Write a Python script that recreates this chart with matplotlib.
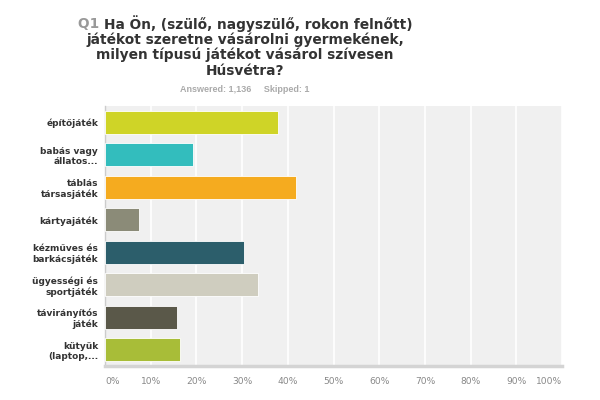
import matplotlib.pyplot as plt
import numpy as np

plt.rcParams['font.family'] = ['Liberation Sans', 'DejaVu Sans']

labels = ['építőjáték', 'babás vagy\nállatos...', 'táblás\ntársasjáték', 'kártyajáték',
          'kézműves és\nbarkácsjáték', 'ügyességi és\nsportjáték', 'távirányítós\njáték',
          'kütyük\n(laptop,...']
values = [37.9, 19.2, 41.8, 7.5, 30.3, 33.5, 15.8, 16.4]
colors = ['#cfd427', '#33bdbd', '#f5ab1f', '#8b8b78', '#2c5e6b', '#cfcdbf', '#5a5849', '#a8bd38']
ticks = [0, 10, 20, 30, 40, 50, 60, 70, 80, 90, 100]

fig = plt.figure(figsize=(6, 4), dpi=100)
ax = fig.add_axes([0.175, 0.085, 0.762, 0.65])
ax.set_facecolor('#f0f0f0')

y = np.arange(len(labels))
ax.barh(y, values, height=0.72, color=colors, zorder=3, edgecolor='white', linewidth=0.6)
ax.set_xlim(0, 100)
ax.set_ylim(len(labels) - 0.5, -0.5)
ax.set_yticks(y)
ax.set_yticklabels(labels, fontsize=6.5, fontweight='bold', family='DejaVu Sans',
                   color='#333333', linespacing=1.2)
ax.set_xticks(ticks)
ax.set_xticklabels([f'{t}%' for t in ticks], fontsize=6.6, family='DejaVu Sans',
                   color='#888888')
for i, lab in enumerate(ax.get_xticklabels()):
    if i == 0:
        lab.set_ha('left')
    elif i == len(ticks) - 1:
        lab.set_ha('right')
ax.tick_params(axis='x', length=0, pad=8)
ax.tick_params(axis='y', length=0, pad=5)
ax.grid(axis='x', color='white', linewidth=1.2, zorder=1)
for s in ['top', 'right']:
    ax.spines[s].set_visible(False)
ax.spines['left'].set_color('#cccccc')
ax.spines['left'].set_linewidth(1)
ax.spines['bottom'].set_color('#d4d4d4')
ax.spines['bottom'].set_linewidth(2.5)

# title, first line has a gray "Q1"
cx = 245 / 600
tfont = dict(fontsize=9.9, fontweight='bold', family='DejaVu Sans')
title_lines = ['játékot szeretne vásárolni gyermekének,',
               'milyen típusú játékot vásárol szívesen',
               'Húsvétra?']
fig.canvas.draw()
r = fig.canvas.get_renderer()
t_q = fig.text(0, 0, 'Q1 ', color='#999999', **tfont)
t_r = fig.text(0, 0, 'Ha Ön, (szülő, nagyszülő, rokon felnőtt)', color='#333333', **tfont)
wq = t_q.get_window_extent(r).width / fig.bbox.width
wr = t_r.get_window_extent(r).width / fig.bbox.width
x0 = cx - (wq + wr) / 2
y1 = 1 - 23.5 / 400
t_q.set_position((x0, y1))
t_r.set_position((x0 + wq, y1))
t_q.set_va('center')
t_r.set_va('center')
for k, line in enumerate(title_lines):
    fig.text(cx, 1 - (39.5 + 15.7 * k) / 400, line, color='#333333',
             ha='center', va='center', **tfont)

fig.text(cx, 1 - 89 / 400, 'Answered: 1,136     Skipped: 1', fontsize=6.5,
         fontweight='bold', color='#aaaaaa', ha='center', va='center')

fig.savefig('out.png', dpi=100)
